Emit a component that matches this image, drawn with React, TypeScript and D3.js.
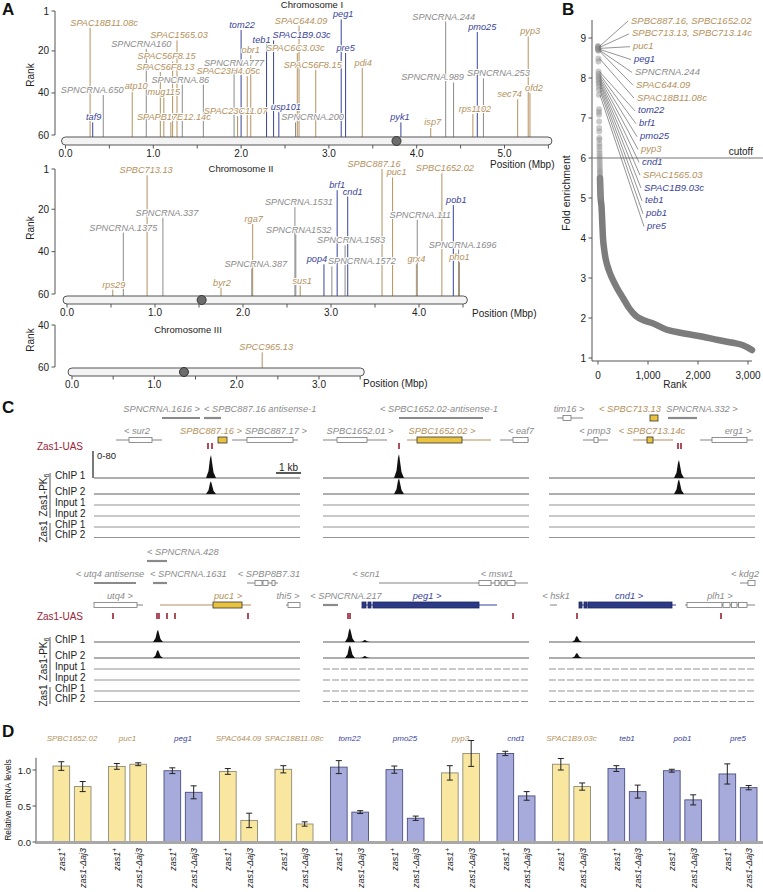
import React from "react";
import * as d3 from "d3";

const FONT = "'Liberation Sans', Arial, Helvetica, sans-serif";
const TAN = "#b4915c";
const BLUE = "#39449a";
const GREY = "#8b8b8b";
const RED = "#9b2335";
const colorOf = (k: string) => (k === "t" ? TAN : k === "b" ? BLUE : GREY);

// ---------------- Panel A data: name, position (Mbp), rank, class ----------------
type Gene = [string, number, number, string];
const chr1Genes: Gene[] = [
  ["SPAC18B11.08c", 0.28, 9, "t"], ["taf9", 0.31, 54, "b"], ["SPNCRNA.650", 0.43, 41, "g"],
  ["atp10", 0.76, 39, "t"], ["SPNCRNA160", 0.92, 19, "g"], ["SPAC1565.03", 1.27, 15, "t"],
  ["SPAC56F8.15", 1.22, 25, "t"], ["SPAC56F8.13", 1.08, 30, "t"], ["SPNCRNA.86", 1.33, 36, "g"],
  ["mug115", 1.12, 42, "t"], ["SPAPB17E12.14c", 1.2, 54, "t"], ["", 1.57, 36, "g"],
  ["SPNCRNA777", 1.92, 28, "g"], ["SPAC23H4.05c", 2.07, 32, "t"], ["obr1", 2.11, 22, "t"],
  ["tom22", 2.0, 10, "b"], ["SPAC23C11.07", 1.96, 51, "t"], ["teb1", 2.29, 17, "b"],
  ["SPAC1B9.03c", 2.37, 15, "b"], ["usp101", 2.43, 49, "b"], ["SPAC6C3.03c", 2.64, 21, "t"],
  ["SPAC644.09", 2.66, 8, "t"], ["SPAC56F8.15", 2.85, 29, "t"], ["SPNCRNA.200", 2.62, 54, "g"],
  ["peg1", 3.14, 5, "b"], ["pre5", 3.19, 21, "b"], ["pdi4", 3.38, 28, "t"],
  ["pyk1", 3.82, 54, "b"], ["isp7", 4.16, 56, "t"], ["SPNCRNA.244", 4.33, 6, "g"],
  ["SPNCRNA.989", 4.42, 35, "g"], ["pmo25", 4.69, 11, "b"], ["SPNCRNA.253", 4.76, 33, "g"],
  ["rps1102", 4.64, 50, "t"], ["sec74", 5.15, 43, "t"], ["pyp3", 5.27, 13, "t"],
  ["ofd2", 5.29, 40, "t"],
];
const chr1LabelDx = [14, 1, -11, 4, -5, 2, -6, 5, -2, 0, 3, 0, 0, -19, 0, 1, -2, -5, 28, 7, -2, 2, -3, 17, 2, 0, 1, -1, 2, -2, -21, 5, 15, 2, -8, 2, 4];

const chr2Genes: Gene[] = [
  ["SPBC713.13", 0.91, 4, "t"], ["SPNCRNA.337", 1.09, 24, "g"], ["SPNCRNA.1375", 0.64, 31, "g"],
  ["rps29", 0.52, 58, "t"], ["byr2", 1.75, 57, "t"], ["rga7", 2.11, 27, "t"],
  ["SPNCRNA.387", 2.1, 48, "g"], ["SPNCRNA.1531", 2.59, 19, "g"], ["SPNCRNA1532", 2.6, 32, "g"],
  ["sus1", 2.65, 56, "t"], ["pop4", 2.92, 46, "b"], ["SPNCRNA.1583", 3.16, 37, "g"],
  ["SPNCRNA.1572", 3.01, 47, "g"], ["brf1", 3.07, 11, "b"], ["cnd1", 3.19, 14, "b"],
  ["SPBC887.16", 3.58, 1, "t"], ["puc1", 3.7, 5, "t"], ["SPNCRNA.111", 3.98, 25, "g"],
  ["grx4", 3.97, 46, "t"], ["SPBC1652.02", 4.26, 3, "t"], ["pob1", 4.39, 18, "b"],
  ["SPNCRNA.1696", 4.45, 39, "g"], ["pho1", 4.46, 45, "t"],
];
const chr2LabelDx = [-1, 4, 0, 1, 1, 1, 4, 4, 3, 2, -7, 6, 30, 0, 5, -8, 4, 3, 0, 3, 3, 4, 0];

const chr3Genes: Gene[] = [["SPCC965.13", 2.31, 53, "t"]];
const chr3LabelDx = [4];

const chromLengths = [5.54, 4.55, 3.55];
const centromeres = [3.77, 1.53, 1.36];
const rankTicksFull = [1, 20, 40, 60];
const rankTicksShort = [40, 60];

// ---------------- Panel B data ----------------
const topFold = [8.8, 8.78, 8.76, 8.74, 8.72, 8.7, 8.68, 8.49, 8.41, 8.16, 8.1, 8.05, 8.0, 7.95, 7.9, 7.85, 7.78, 7.7, 7.58, 7.22, 7.15, 7.08, 6.91, 6.75, 6.66, 6.5, 6.45, 6.35, 6.28, 6.2, 6.12, 6.05, 5.98, 5.92, 5.85, 5.78, 5.72, 5.66, 5.62, 5.55, 5.5, 5.45, 5.4, 5.35, 5.3, 5.27, 5.23, 5.2, 5.15, 5.12, 5.08, 5.04, 5.0];
const bandRank = [40, 53, 70, 85, 100, 120, 150, 190, 230, 280, 380, 500, 620, 760, 900, 1080, 1350, 1650, 2100, 2400, 2700, 2900, 3000, 3080];
const bandFold = [5.5, 5.0, 4.8, 4.4, 4.0, 3.75, 3.5, 3.3, 3.15, 3.0, 2.75, 2.5, 2.25, 2.05, 1.95, 1.875, 1.72, 1.63, 1.53, 1.45, 1.38, 1.32, 1.26, 1.2];
const bLabels = ["SPBC887.16, SPBC1652.02", "SPBC713.13, SPBC713.14c", "puc1", "peg1", "SPNCRNA.244", "SPAC644.09", "SPAC18B11.08c", "tom22", "brf1", "pmo25", "pyp3", "cnd1", "SPAC1565.03", "SPAC1B9.03c", "teb1", "pob1", "pre5"];
const bKinds = ["t", "t", "t", "b", "g", "t", "t", "b", "b", "b", "t", "b", "t", "b", "b", "b", "b"];
const bLabelFold = [8.78, 8.76, 8.74, 8.72, 8.7, 8.68, 8.49, 8.16, 8.1, 8.05, 8.0, 7.95, 7.9, 7.85, 7.78, 7.7, 7.58];
const bLabelRank = [1, 2, 3, 4, 5, 6, 8, 10, 11, 12, 13, 14, 15, 16, 17, 18, 19];
const bYTicks = [1, 2, 3, 4, 5, 6, 7, 8, 9];
const bXTicks = [0, 1000, 2000, 3000];
const cutoffFold = 6;

// ---------------- Panel C data (kb from locus start) ----------------
type Feat = { name: string; kind: string; row: number; line?: [number, number]; boxes?: [number, number][]; lx: number; anchor?: string };
const topLoci: Feat[][] = [
  [
    { name: "SPNCRNA.1616 >", kind: "nc", row: 1, line: [2.72, 4.24], lx: 4.24, anchor: "end" },
    { name: "< SPBC887.16 antisense-1", kind: "nc", row: 1, line: [4.4, 5.08], lx: 4.4, anchor: "start" },
    { name: "< sur2", kind: "gene", row: 2, line: [0.88, 2.72], boxes: [[1.4, 2.32]], lx: 1.72 },
    { name: "SPBC887.16 >", kind: "yel", row: 2, boxes: [[4.96, 5.32]], lx: 4.68 },
    { name: "SPBC887.17 >", kind: "gene", row: 2, line: [5.52, 8.16], boxes: [[6.12, 7.96]], lx: 7.28 },
  ],
  [
    { name: "< SPBC1652.02-antisense-1", kind: "nc", row: 1, line: [3.04, 6.4], lx: 4.64 },
    { name: "SPBC1652.01 >", kind: "gene", row: 2, line: [0, 2.56], boxes: [[0.56, 1.76]], lx: 1.48 },
    { name: "SPBC1652.02 >", kind: "yel", row: 2, line: [3.36, 6.72], boxes: [[3.76, 5.56]], lx: 4.76 },
    { name: "< eaf7", kind: "gene", row: 2, line: [7.08, 8.24], boxes: [[7.6, 8.2]], lx: 7.92 },
  ],
  [
    { name: "tim16 >", kind: "gene", row: 1, line: [0.32, 1.36], boxes: [[0.56, 0.88]], lx: 0.8 },
    { name: "< SPBC713.13", kind: "yel", row: 1, boxes: [[4.04, 4.36]], lx: 3.24 },
    { name: "SPNCRNA.332 >", kind: "nc", row: 1, line: [4.76, 5.92], lx: 6.12 },
    { name: "< pmp3", kind: "gene", row: 2, line: [1.36, 2.36], boxes: [[1.8, 1.96]], lx: 1.84 },
    { name: "< SPBC713.14c", kind: "yel", row: 2, line: [3.36, 4.96], boxes: [[3.92, 4.16]], lx: 4.12 },
    { name: "erg1 >", kind: "gene", row: 2, line: [6.04, 8.16], boxes: [[6.52, 7.92]], lx: 7.56 },
  ],
];
const botLoci: Feat[][] = [
  [
    { name: "< SPNCRNA.428", kind: "nc", row: 0, line: [2.12, 2.92], lx: 2.12, anchor: "start" },
    { name: "< utq4 antisense", kind: "nc", row: 1, line: [0, 1.68], lx: 0.64 },
    { name: "< SPNCRNA.1631", kind: "nc", row: 1, line: [2.36, 2.92], lx: 2.24, anchor: "start" },
    { name: "< SPBP8B7.31", kind: "gene", row: 1, line: [6.12, 7.36], boxes: [[6.44, 6.72], [6.76, 6.96], [7.12, 7.24]], lx: 7.0 },
    { name: "utq4 >", kind: "gene", row: 2, line: [0, 1.96], boxes: [[0, 1.72]], lx: 1.04 },
    { name: "puc1 >", kind: "yel", row: 2, line: [2.64, 6.28], boxes: [[4.76, 5.92]], lx: 5.36 },
    { name: "thi5 >", kind: "gene", row: 2, line: [7.68, 8.24], boxes: [[7.76, 8.24]], lx: 7.76 },
  ],
  [
    { name: "< scn1", kind: "gene", row: 1, line: [2.24, 6.28], lx: 1.72 },
    { name: "< msw1", kind: "gene", row: 1, line: [6.24, 8.2], boxes: [[6.24, 6.72], [6.88, 7.04], [7.12, 7.28], [7.36, 7.68]], lx: 6.96 },
    { name: "< SPNCRNA.217", kind: "nc", row: 2, line: [0, 0.6], lx: 0.92 },
    { name: "peg1 >", kind: "blue", row: 2, line: [1.56, 6.96], boxes: [[1.56, 1.72], [1.8, 1.92], [2.0, 6.24]], lx: 4.16 },
  ],
  [
    { name: "< kdg2", kind: "gene", row: 1, line: [7.64, 8.24], boxes: [[7.96, 8.24]], lx: 7.84 },
    { name: "< hsk1", kind: "gene", row: 2, line: [0.04, 0.32], lx: 0.28 },
    { name: "cnd1 >", kind: "blue", row: 2, line: [1.2, 5.08], boxes: [[1.2, 1.32], [1.4, 1.52], [1.56, 4.92]], lx: 3.2 },
    { name: "plh1 >", kind: "gene", row: 2, line: [5.44, 8.24], boxes: [[5.52, 6.92], [6.96, 7.24], [7.3, 7.52], [7.58, 7.92]], lx: 6.84 },
  ],
];
const topUAS = [[4.56, 4.72], [3.04], [5.16, 5.28]];
const botUAS = [[0.76, 2.52, 2.6, 2.92, 3.24, 6.16], [1.0, 1.08, 7.6], [1.12, 6.88]];
// peaks per locus: [ChIP1 peaks, ChIP2 peaks] as [kb, signal 0-80]
const topPeaks = [
  [[[4.68, 68]], [[4.68, 38]]],
  [[[3.04, 71]], [[3.04, 47]]],
  [[[5.2, 53]], [[5.2, 44]]],
];
const botPeaks = [
  [[[2.56, 36]], [[2.56, 24]]],
  [[[1.08, 41], [1.68, 6]], [[1.08, 38], [1.68, 6]]],
  [[[1.12, 18]], [[1.12, 15]]],
];
const trackNames = ["ChIP 1", "ChIP 2", "Input 1", "Input 2", "ChIP 1", "ChIP 2"];
const locusKb = 8.24;

// ---------------- Panel D data ----------------
const dGenes = ["SPBC1652.02", "puc1", "peg1", "SPAC644.09", "SPAC18B11.08c", "tom22", "pmo25", "pyp3", "cnd1", "SPAC1B9.03c", "teb1", "pob1", "pre5"];
const dKinds = ["t", "t", "b", "t", "t", "b", "b", "t", "b", "t", "b", "b", "b"];
const wtMean = [1.055, 1.05, 0.99, 0.98, 1.01, 1.04, 1.005, 0.96, 1.23, 1.08, 1.02, 0.99, 0.945];
const wtErr = [0.06, 0.04, 0.04, 0.04, 0.05, 0.09, 0.05, 0.1, 0.03, 0.08, 0.04, 0.02, 0.14];
const mutMean = [0.77, 1.08, 0.69, 0.3, 0.25, 0.415, 0.33, 1.23, 0.64, 0.77, 0.7, 0.585, 0.755];
const mutErr = [0.07, 0.02, 0.09, 0.1, 0.03, 0.02, 0.03, 0.18, 0.06, 0.05, 0.09, 0.07, 0.03];
const dYTicks = [0, 0.5, 1.0];

// ======================================================================
function Chromosome(p: any) {
  const { genes, dx, x, y, barCY, len, cen, rankTicks } = p;
  const posTicks = d3.range(0, len + 1e-6, 0.5);
  return (
    <g>
      <line x1={55} x2={55} y1={y(rankTicks[0])} y2={y(rankTicks[rankTicks.length - 1])} stroke="#555" />
      {rankTicks.map((t: number) => (
        <g key={"rt" + t}>
          <line x1={51.5} x2={55} y1={y(t)} y2={y(t)} stroke="#555" />
          <text x={49} y={y(t) + 3.5} textAnchor="end" fontSize={10} fill="#222">{t}</text>
        </g>
      ))}
      <text transform={`translate(33.5,${p.rankLabelY}) rotate(-90)`} textAnchor="middle" fontSize={10} fill="#222">Rank</text>
      {genes.map((g: Gene, i: number) => (
        <line key={"gl" + i} x1={x(g[1])} x2={x(g[1])} y1={y(g[2])} y2={barCY - 4} stroke={colorOf(g[3])} strokeWidth={1} />
      ))}
      {genes.map((g: Gene, i: number) =>
        g[0] ? (
          <text key={"gt" + i} x={x(g[1]) + dx[i]} y={y(g[2]) - 2} textAnchor="middle" fontSize={9.2} fontStyle="italic"
            fill={colorOf(g[3])} stroke="#fff" strokeWidth={2} strokeLinejoin="round" style={{ paintOrder: "stroke" }}>{g[0]}</text>
        ) : null
      )}
      <rect x={x(0) - 4} y={barCY - 4} width={x(len) - x(0) + 4} height={8} rx={4} fill="#f3f3f3" stroke="#555" />
      <circle cx={x(cen)} cy={barCY} r={4.5} fill="#6d6d6d" stroke="#333" />
      {posTicks.map((t) => (
        <line key={"pt" + t} x1={x(t)} x2={x(t)} y1={barCY + 4} y2={barCY + 7.5} stroke="#555" />
      ))}
      {posTicks.filter((t) => Math.abs(t - Math.round(t)) < 1e-6).map((t) => (
        <text key={"pl" + t} x={x(t)} y={barCY + 15.5} textAnchor="middle" fontSize={10} fill="#222">{d3.format(".1f")(t)}</text>
      ))}
      <text x={p.titleX} y={p.titleY} textAnchor="middle" fontSize={9.5} fill="#222">{p.title}</text>
      <text x={p.posX} y={p.posY} fontSize={10} fill="#222">Position (Mbp)</text>
    </g>
  );
}

function PanelA() {
  return (
    <g>
      <Chromosome genes={chr1Genes} dx={chr1LabelDx} x={d3.scaleLinear([0, 5], [65.5, 504.5])} y={d3.scaleLinear([1, 60], [11, 135])}
        barCY={141} len={chromLengths[0]} cen={centromeres[0]} rankTicks={rankTicksFull} title="Chromosome I" titleX={312} titleY={7.5}
        posX={490} posY={167.5} rankLabelY={75} />
      <Chromosome genes={chr2Genes} dx={chr2LabelDx} x={d3.scaleLinear([0, 4], [67, 419])} y={d3.scaleLinear([1, 60], [169, 294])}
        barCY={300} len={chromLengths[1]} cen={centromeres[1]} rankTicks={rankTicksFull} title="Chromosome II" titleX={241} titleY={171.5}
        posX={472} posY={316.5} rankLabelY={228} />
      <Chromosome genes={chr3Genes} dx={chr3LabelDx} x={d3.scaleLinear([0, 3], [72, 319])} y={d3.scaleLinear([40, 60], [325, 367])}
        barCY={372} len={chromLengths[2]} cen={centromeres[2]} rankTicks={rankTicksShort} title="Chromosome III" titleX={188} titleY={332.5}
        posX={363} posY={386.5} rankLabelY={340} />
    </g>
  );
}

function PanelB() {
  const bX = d3.scaleLinear([0, 3000], [598, 748]);
  const bY = d3.scaleLinear([1, 9], [358, 38]);
  const band = d3.line<number>().x((_, i) => bX(bandRank[i])).y((f) => bY(f)).curve(d3.curveMonotoneX)(bandFold) || "";
  return (
    <g>
      <line x1={592} x2={592} y1={20} y2={361} stroke="#555" />
      {bYTicks.map((t) => (
        <g key={"by" + t}>
          <line x1={588.5} x2={592} y1={bY(t)} y2={bY(t)} stroke="#555" />
          <text x={586} y={bY(t) + 3.5} textAnchor="end" fontSize={10} fill="#222">{t}</text>
        </g>
      ))}
      <line x1={592} x2={752} y1={361} y2={361} stroke="#555" />
      {bXTicks.map((t) => (
        <g key={"bx" + t}>
          <line x1={bX(t)} x2={bX(t)} y1={361} y2={364.5} stroke="#555" />
          <text x={bX(t)} y={378.5} textAnchor="middle" fontSize={10} fill="#222">{d3.format(",")(t)}</text>
        </g>
      ))}
      <text x={675} y={388} textAnchor="middle" fontSize={10} fill="#222">Rank</text>
      <text transform="translate(570,193) rotate(-90)" textAnchor="middle" fontSize={10.5} fill="#222">Fold enrichment</text>
      <path d={band} fill="none" stroke="#7c7c7c" strokeWidth={6.5} strokeLinecap="round" />
      {topFold.map((f, i) => (
        <circle key={"td" + i} cx={bX(i + 1)} cy={bY(f)} r={3} fill="#8a8a8a" fillOpacity={0.45} />
      ))}
      <line x1={592} x2={763} y1={bY(cutoffFold)} y2={bY(cutoffFold)} stroke="#777" strokeWidth={1.2} />
      <text x={753} y={155} textAnchor="end" fontSize={10} fill="#222">cutoff</text>
      {bLabels.map((name, i) => {
        const ly = 20 + i * 12.85;
        const lx = 631 + i * 1.0;
        return (
          <g key={"bl" + i}>
            <line x1={bX(bLabelRank[i]) + 1} y1={bY(bLabelFold[i])} x2={lx - 3} y2={ly + 1} stroke="#666" strokeWidth={0.7} />
            <text x={lx} y={ly + 3.5} fontSize={9.5} fontStyle="italic" fill={colorOf(bKinds[i])}>{name}</text>
          </g>
        );
      })}
    </g>
  );
}

function Locus(p: { feats: Feat[]; x0: number; rowY0: number; uas: number[]; uasY: number; trackY0: number; peaks: number[][][]; dashed: boolean }) {
  const x = d3.scaleLinear([0, locusKb], [p.x0, p.x0 + 206]);
  const sy = d3.scaleLinear([0, 80], [0, 27]);
  const offs = [0, 16, 27, 38, 49, 59.5];
  const profile = [[-0.2, 0], [-0.1, 0.3], [-0.04, 0.85], [0, 1], [0.04, 0.7], [0.1, 0.25], [0.2, 0]];
  return (
    <g>
      {p.feats.map((f, i) => {
        const ry = p.rowY0 + 22 * f.row;
        const lineCol = f.kind === "yel" ? TAN : f.kind === "blue" ? BLUE : f.kind === "nc" ? "#8a8a8a" : "#777";
        const lw = f.kind === "nc" ? 2.2 : f.kind === "gene" ? 0.9 : 1.2;
        const fill = f.kind === "yel" ? "#e9c33d" : f.kind === "blue" ? "#2c3a85" : "#fff";
        const bstroke = f.kind === "yel" ? "#333" : f.kind === "blue" ? "#1d2660" : "#777";
        const bh = f.kind === "gene" ? 5 : 6;
        const tcol = f.kind === "yel" ? TAN : f.kind === "blue" ? BLUE : GREY;
        return (
          <g key={"f" + i}>
            {f.line && <line x1={x(f.line[0])} x2={x(f.line[1])} y1={ry} y2={ry} stroke={lineCol} strokeWidth={lw} />}
            {(f.boxes || []).map((b, j) => (
              <rect key={"b" + j} x={x(b[0])} y={ry - bh / 2} width={x(b[1]) - x(b[0])} height={bh} fill={fill} stroke={bstroke} strokeWidth={0.8} />
            ))}
            <text x={x(f.lx)} y={ry - 6} textAnchor={(f.anchor as any) || "middle"} fontSize={9.3} fontStyle="italic" fill={tcol}>{f.name}</text>
          </g>
        );
      })}
      {p.uas.map((u, i) => (
        <rect key={"u" + i} x={x(u) - 0.8} y={p.uasY - 3} width={1.6} height={6} fill={RED} />
      ))}
      {offs.map((o, t) => (
        <line key={"tr" + t} x1={x(0)} x2={x(locusKb)} y1={p.trackY0 + o} y2={p.trackY0 + o}
          stroke={t < 2 ? "#333" : "#666"} strokeWidth={t < 2 ? 0.8 : 0.7} strokeDasharray={p.dashed && t >= 2 ? "7 2" : undefined} />
      ))}
      {p.peaks.map((pk, t) =>
        pk.map((q, j) => {
          const area = d3.area<number[]>().x((d) => x(q[0] + d[0])).y0(p.trackY0 + offs[t]).y1((d) => p.trackY0 + offs[t] - sy(q[1] * d[1]))(profile) || "";
          return <path key={"pk" + t + "-" + j} d={area} fill="#111" />;
        })
      )}
    </g>
  );
}

function TrackLabels({ trackY0, uasY }: { trackY0: number; uasY: number }) {
  const offs = [0, 16, 27, 38, 49, 59.5];
  return (
    <g>
      <text x={83} y={uasY + 3.5} textAnchor="end" fontSize={10} fill={RED}>Zas1-UAS</text>
      {trackNames.map((n, i) => (
        <text key={"tn" + i} x={55} y={trackY0 + offs[i] + 0.5} fontSize={10} fill="#222">{n}</text>
      ))}
      <line x1={50} x2={50} y1={trackY0 - 5} y2={trackY0 + 40} stroke="#555" />
      <line x1={50} x2={50} y1={trackY0 + 45} y2={trackY0 + 62} stroke="#555" />
      <text transform={`translate(46.5,${trackY0 + 17}) rotate(-90)`} textAnchor="middle" fontSize={10} fill="#222">
        Zas1-PK<tspan fontSize={7} dy={2.5}>6</tspan>
      </text>
      <text transform={`translate(46.5,${trackY0 + 53.5}) rotate(-90)`} textAnchor="middle" fontSize={10} fill="#222">Zas1</text>
    </g>
  );
}

function PanelC() {
  const x0s = [94, 323, 549];
  const top = { rowY0: 396, uasY: 446, trackY0: 478 };
  const bot = { rowY0: 561, uasY: 616, trackY0: 642 };
  return (
    <g>
      <TrackLabels trackY0={top.trackY0} uasY={top.uasY} />
      <TrackLabels trackY0={bot.trackY0} uasY={bot.uasY} />
      {x0s.map((x0, i) => (
        <Locus key={"tl" + i} feats={topLoci[i]} x0={x0} rowY0={top.rowY0} uas={topUAS[i]} uasY={top.uasY} trackY0={top.trackY0} peaks={topPeaks[i]} dashed={false} />
      ))}
      {x0s.map((x0, i) => (
        <Locus key={"bl" + i} feats={botLoci[i]} x0={x0} rowY0={bot.rowY0} uas={botUAS[i]} uasY={bot.uasY} trackY0={bot.trackY0} peaks={botPeaks[i]} dashed={i > 0} />
      ))}
      <line x1={93} x2={93} y1={top.trackY0 - 27} y2={top.trackY0} stroke="#222" strokeWidth={1.2} />
      <text x={97} y={459} fontSize={9.5} fill="#222">0-80</text>
      <line x1={276} x2={301} y1={473} y2={473} stroke="#222" strokeWidth={1.5} />
      <text x={288.5} y={470.5} textAnchor="middle" fontSize={10} fill="#222">1 kb</text>
    </g>
  );
}

function PanelD() {
  const xG = d3.scaleBand<string>().domain(dGenes).range([44.25, 765.75]).paddingInner(0).paddingOuter(0);
  const xIn = d3.scaleBand<string>().domain(["wt", "mut"]).range([-19, 19]).paddingInner(0.22);
  const yD = d3.scaleLinear([0, 1], [842, 770]);
  return (
    <g>
      <line x1={36} x2={36} y1={yD(0) + 2} y2={yD(1.17)} stroke="#555" />
      {dYTicks.map((t) => (
        <g key={"dy" + t}>
          <line x1={32.5} x2={36} y1={yD(t)} y2={yD(t)} stroke="#555" />
          <text x={31} y={yD(t) + 3.5} textAnchor="end" fontSize={9.5} fill="#222">{d3.format(".1f")(t)}</text>
        </g>
      ))}
      <text transform="translate(10.5,800) rotate(-90)" textAnchor="middle" fontSize={8.5} fill="#222">Relative mRNA levels</text>
      {dGenes.map((g, i) => {
        const cx = (xG(g) as number) + xG.bandwidth() / 2;
        const yellow = dKinds[i] === "t";
        const fill = yellow ? "#f9e79f" : "#a6abdc";
        const stroke = yellow ? "#8d8a78" : "#4a4f80";
        const vals = [[wtMean[i], wtErr[i]], [mutMean[i], mutErr[i]]];
        return (
          <g key={"dg" + i}>
            <text x={cx} y={741} textAnchor="middle" fontSize={8} fontStyle="italic" fill={colorOf(dKinds[i])}>{g}</text>
            {["wt", "mut"].map((k, j) => {
              const bx = cx + (xIn(k) as number);
              const bw = xIn.bandwidth();
              const [m, e] = vals[j];
              const bc = bx + bw / 2;
              return (
                <g key={k}>
                  <rect x={bx} y={yD(m)} width={bw} height={yD(0) - yD(m)} fill={fill} stroke={stroke} strokeWidth={0.9} />
                  <line x1={bc} x2={bc} y1={yD(m - e)} y2={yD(m + e)} stroke="#222" strokeWidth={1} />
                  <line x1={bc - 3} x2={bc + 3} y1={yD(m - e)} y2={yD(m - e)} stroke="#222" strokeWidth={1} />
                  <line x1={bc - 3} x2={bc + 3} y1={yD(m + e)} y2={yD(m + e)} stroke="#222" strokeWidth={1} />
                  <text transform={`translate(${bc + 3.5},848) rotate(-90)`} textAnchor="end" fontSize={9} fontStyle="italic" fill="#222">
                    {k === "wt" ? (<>zas1<tspan fontSize={6.5} dy={-3}>+</tspan></>) : "zas1-Δaj3"}
                  </text>
                </g>
              );
            })}
          </g>
        );
      })}
      <line x1={36} x2={763} y1={yD(0) + 0.5} y2={yD(0) + 0.5} stroke="#a8a8a8" strokeWidth={3} />
    </g>
  );
}

export default function App() {
  return (
    <svg width={763} height={892} viewBox="0 0 763 892" style={{ position: "absolute", left: 0, top: 0, background: "#fff" }} fontFamily={FONT}>
      <rect width={763} height={892} fill="#fff" />
      <PanelA />
      <PanelB />
      <PanelC />
      <PanelD />
      <text x={2} y={15} fontSize={17} fontWeight="bold" fill="#111">A</text>
      <text x={562} y={15} fontSize={17} fontWeight="bold" fill="#111">B</text>
      <text x={2} y={413} fontSize={17} fontWeight="bold" fill="#111">C</text>
      <text x={2} y={737} fontSize={17} fontWeight="bold" fill="#111">D</text>
    </svg>
  );
}
